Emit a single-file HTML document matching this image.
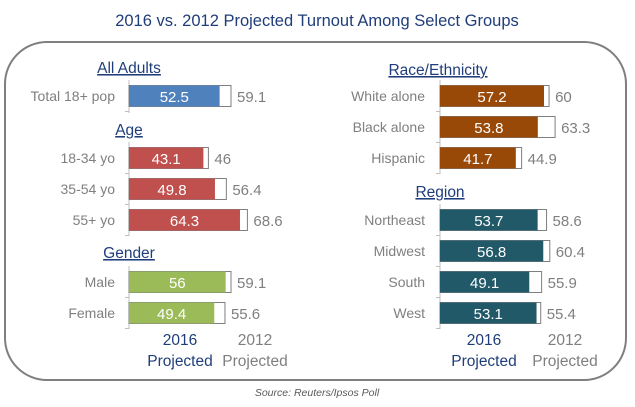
<!DOCTYPE html>
<html><head><meta charset="utf-8"><style>
html,body{margin:0;padding:0;background:#fff;width:635px;height:407px;overflow:hidden}
svg{font-family:"Liberation Sans",sans-serif}
</style></head><body>
<svg id="chart" width="635" height="407">
<text x="317" y="26" text-anchor="middle" font-size="16.5" fill="#1f3d7a">2016 vs. 2012 Projected Turnout Among Select Groups</text>
<rect x="5" y="42" width="621" height="338" rx="42" ry="42" fill="none" stroke="#7f7f7f" stroke-width="2"/>
<text x="317" y="396" text-anchor="middle" font-size="10.5" font-style="italic" fill="#595959">Source: Reuters/Ipsos Poll</text>
<g id="marks"></g>
</svg>
<script>
const leftCats=["Total 18+ pop","18-34 yo","35-54 yo","55+ yo","Male","Female"];
const leftV2016=[52.5,43.1,49.8,64.3,56,49.4];
const leftV2012=[59.1,46,56.4,68.6,59.1,55.6];
const rightCats=["White alone","Black alone","Hispanic","Northeast","Midwest","South","West"];
const rightV2016=[57.2,53.8,41.7,53.7,56.8,49.1,53.1];
const rightV2012=[60,63.3,44.9,58.6,60.4,55.9,55.4];
const leftRowY=[96,158,189,220,282,313];
const rightRowY=[96,127,158,220,251,282,313];
const leftColors=["#4f81bd","#c0504d","#c0504d","#c0504d","#9bbb59","#9bbb59"];
const rightColors=["#984807","#984807","#984807","#215968","#215968","#215968","#215968"];
const NS="http://www.w3.org/2000/svg";
const g=document.getElementById('marks');
function el(t,a,txt){const e=document.createElementNS(NS,t);for(const k in a)e.setAttribute(k,a[k]);if(txt!==undefined)e.textContent=txt;g.appendChild(e);return e;}
function xL(v){return 129+v*1.726;}
function xR(v){return 440+v*1.818;}
function panel(cats,v16,v12,ys,cols,x0,xs,labX,side){
  cats.forEach((c,i)=>{
    const y=ys[i],h=21;
    const t=el('text',{x:labX,y:y+5,'text-anchor':'end','font-size':14,fill:'#7f7f7f'},c);
    
    
    const b2=el('rect',{x:x0,y:y-h/2,width:xs(v12[i])-x0,height:h,fill:'#fff',stroke:'#7f7f7f','stroke-width':1});
    
    
    const b1=el('rect',{x:x0,y:y-h/2,width:xs(v16[i])-x0,height:h,fill:cols[i]});
    
    
    const l1=el('text',{x:(x0+xs(v16[i]))/2,y:y+6,'text-anchor':'middle','font-size':15,fill:'#fff'},String(v16[i]));
    
    
    const l2=el('text',{x:xs(v12[i])+6,y:y+6,'font-size':15,fill:'#7f7f7f'},String(v12[i]));
    
    
    const tk=el('line',{x1:x0-4,x2:x0,y1:y+15.5,y2:y+15.5,stroke:'#bfbfbf'});
    
    
  });
}
// axis segments
[[129,80,113],[129,142,236],[129,266,329],[440,80,174],[440,204,329]].forEach(s=>{
  const a=el('line',{x1:s[0],x2:s[0],y1:s[1],y2:s[2],stroke:'#bfbfbf'});
  
  
});
panel(leftCats,leftV2016,leftV2012,leftRowY,leftColors,129,xL,115,'left');
panel(rightCats,rightV2016,rightV2012,rightRowY,rightColors,440,xR,425,'right');
[["All Adults",129,73],["Age",129,135],["Gender",129,258],["Race/Ethnicity",438,75],["Region",440,197]].forEach(h=>{
  const t=el('text',{x:h[1],y:h[2],'text-anchor':'middle','font-size':15.5,fill:'#1f3d7a','text-decoration':'underline'},h[0]);
  
  
});
[[180,'#1f3d7a','2016'],[255,'#7f7f7f','2012'],[484,'#1f3d7a','2016'],[565,'#7f7f7f','2012']].forEach(f=>{
  const a=el('text',{x:f[0],y:345,'text-anchor':'middle','font-size':15.5,fill:f[1]},f[2]);
  
  
  const b=el('text',{x:f[0],y:366,'text-anchor':'middle','font-size':15.5,fill:f[1]},'Projected');
  
  
});
</script>
</body></html>
